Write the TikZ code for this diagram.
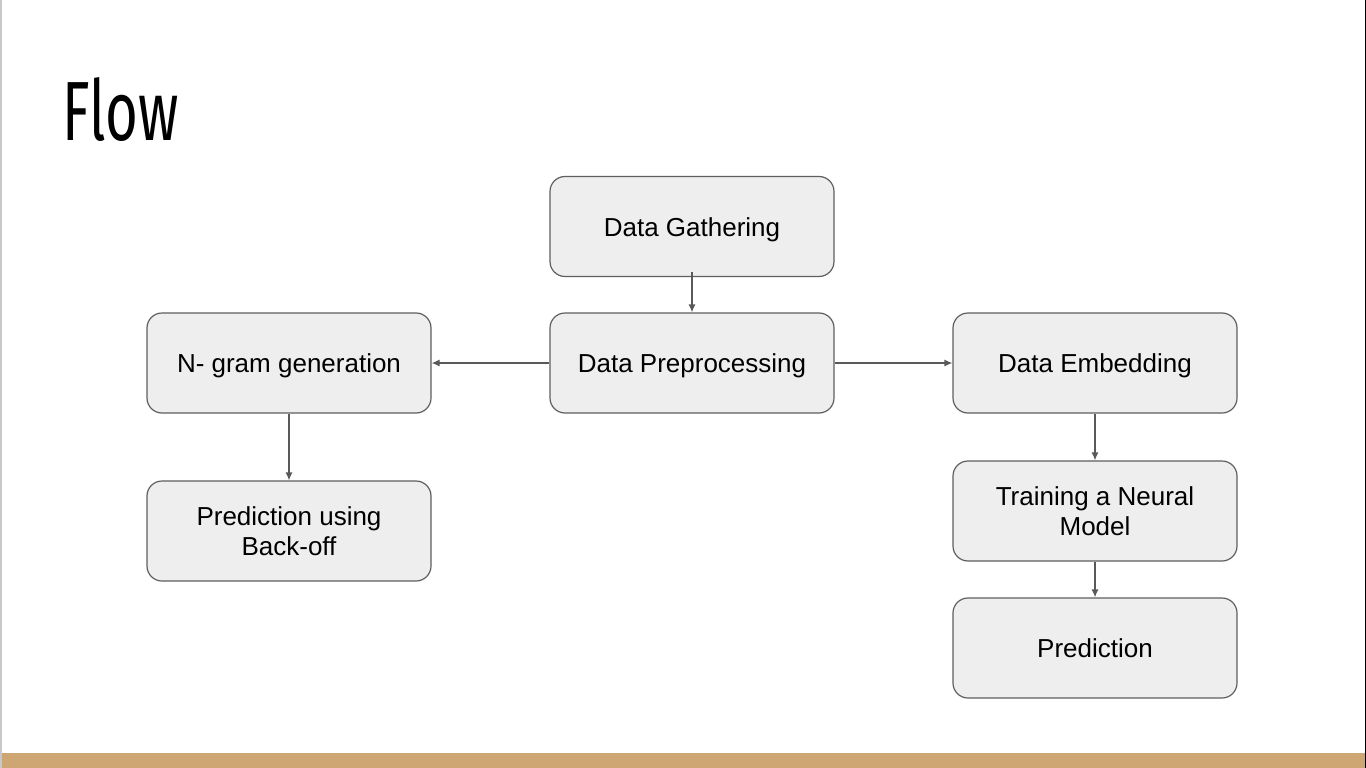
\documentclass[tikz,border=0pt]{standalone}
\usepackage{fontspec}
\setmainfont{Liberation Sans}
\newfontfamily\titlefont{Fira Sans}
\usetikzlibrary{arrows.meta}
\definecolor{boxfill}{HTML}{EEEEEE}
\definecolor{boxline}{HTML}{5F5F5F}
\definecolor{arrowc}{HTML}{595959}
\definecolor{barc}{HTML}{CDA674}
\definecolor{leftedge}{HTML}{C8C8C8}
\tikzset{
  flowbox/.style={draw=boxline, fill=boxfill, line width=1.2pt, rounded corners=15pt,
    minimum width=284pt, minimum height=100pt, align=center, inner sep=0pt,
    font=\fontsize{26}{30}\selectfont, text=black},
  oneline/.style={text height=19pt, text depth=0pt},
  flowarrow/.style={draw=arrowc, line width=1.3pt, -{Latex[length=8pt,width=7pt]}}
}
\begin{document}
\begin{tikzpicture}[x=1pt,y=-1pt]
\useasboundingbox (0,0) rectangle (1366,768);
\fill[white] (0,0) rectangle (1366,768);
\fill[barc] (0,753) rectangle (1366,768);
\draw[leftedge, line width=1.5pt] (0.75,0) -- (0.75,768);
\draw[black, line width=1.2pt] (1365.4,0) -- (1365.4,768);
\node[anchor=base west, inner sep=0pt, font=\titlefont\fontsize{84}{84}\selectfont] (title) at (62,140) {\scalebox{0.67}[1]{Flow}};
\node[flowbox, oneline] (gather) at (692,226.5) {Data Gathering};
\node[flowbox, oneline] (prep) at (692,363) {Data Preprocessing};
\node[flowbox, oneline] (ngram) at (289,363) {N- gram generation};
\node[flowbox] (backoff) at (289,531) {Prediction using\\Back-off};
\node[flowbox, oneline] (embed) at (1095,363) {Data Embedding};
\node[flowbox] (train) at (1095,511) {Training a Neural\\Model};
\node[flowbox, oneline] (pred) at (1095,648) {Prediction};
\draw[flowarrow] ([yshift=5pt]gather.south) -- (prep.north);
\draw[flowarrow] (prep.west) -- (ngram.east);
\draw[flowarrow] (prep.east) -- (embed.west);
\draw[flowarrow] (ngram.south) -- (backoff.north);
\draw[flowarrow] (embed.south) -- (train.north);
\draw[flowarrow] (train.south) -- (pred.north);
\end{tikzpicture}
\end{document}
